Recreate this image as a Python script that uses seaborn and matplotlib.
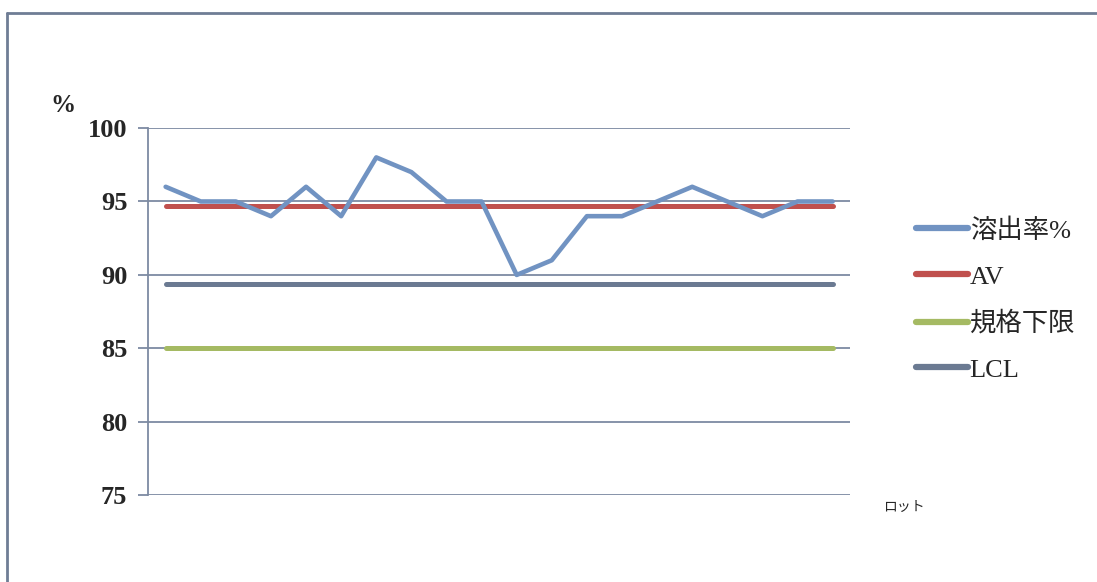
import numpy as np
import pandas as pd
import seaborn as sns
import matplotlib.pyplot as plt
from matplotlib.lines import Line2D

sns.set_theme(style="white")
plt.rcParams['font.family'] = ['Liberation Serif', 'Noto Sans CJK JP', 'DejaVu Sans']

# データ
lots = list(range(1, 21))
dissolution = [96, 95, 95, 94, 96, 94, 98, 97, 95, 95,
               90, 91, 94, 94, 95, 96, 95, 94, 95, 95]
av_value = 94.7
spec_lower = 85.0
lcl_value = 89.4

df = pd.DataFrame({
    "lot": lots,
    "溶出率%": dissolution,
    "AV": [av_value] * len(lots),
    "規格下限": [spec_lower] * len(lots),
    "LCL": [lcl_value] * len(lots),
})

colores = {"溶出率%": "#7193c2", "AV": "#c0504d", "規格下限": "#a5ba63", "LCL": "#6b7a92"}

fig = plt.figure(figsize=(10.97, 5.82), dpi=100)
ax = fig.add_axes([0.135, 0.149, 0.640, 0.631])

for col in ["LCL", "規格下限", "AV", "溶出率%"]:
    sns.lineplot(data=df, x="lot", y=col, ax=ax, color=colores[col],
                 linewidth=3.6 if col != "溶出率%" else 3.3, solid_capstyle="round")

ax.set_xlim(0.5, 20.5)
ax.set_ylim(75, 100)
ax.set_yticks([75, 80, 85, 90, 95, 100])
ax.set_xticks([])
ax.set_xlabel("")
ax.set_ylabel("")
ax.yaxis.grid(True, color="#7d8aa2", linewidth=1.3)
ax.set_axisbelow(True)
for s in ["top", "right", "bottom"]:
    ax.spines[s].set_visible(False)
ax.spines["left"].set_color("#7d8aa2")
ax.spines["left"].set_linewidth(1.3)
ax.tick_params(axis="y", left=True, length=7, width=1.3, color="#7d8aa2",
               labelsize=19, pad=8)
for lab in ax.get_yticklabels():
    lab.set_fontweight("bold")

fig.text(0.046, 0.808, "%", fontsize=18, fontweight="bold")
fig.text(0.805, 0.122, "ロット", fontsize=10, family=['Noto Sans CJK JP'])

handles = [Line2D([0], [0], color=colores[c], linewidth=4.5) for c in ["溶出率%", "AV", "規格下限", "LCL"]]
fig.legend(handles, ["溶出率%", "AV", "規格下限", "LCL"], loc="upper left",
           bbox_to_anchor=(0.813, 0.666), frameon=False, fontsize=19,
           handlelength=2.0, handletextpad=0.05, labelspacing=0.85)

# 外枠
fig.add_artist(Line2D([0.006, 1.0], [0.978, 0.978], color="#6f7d95", linewidth=2))
fig.add_artist(Line2D([0.006, 0.006], [0.0, 0.978], color="#6f7d95", linewidth=2))

fig.savefig("out.png", dpi=100, facecolor="white")
